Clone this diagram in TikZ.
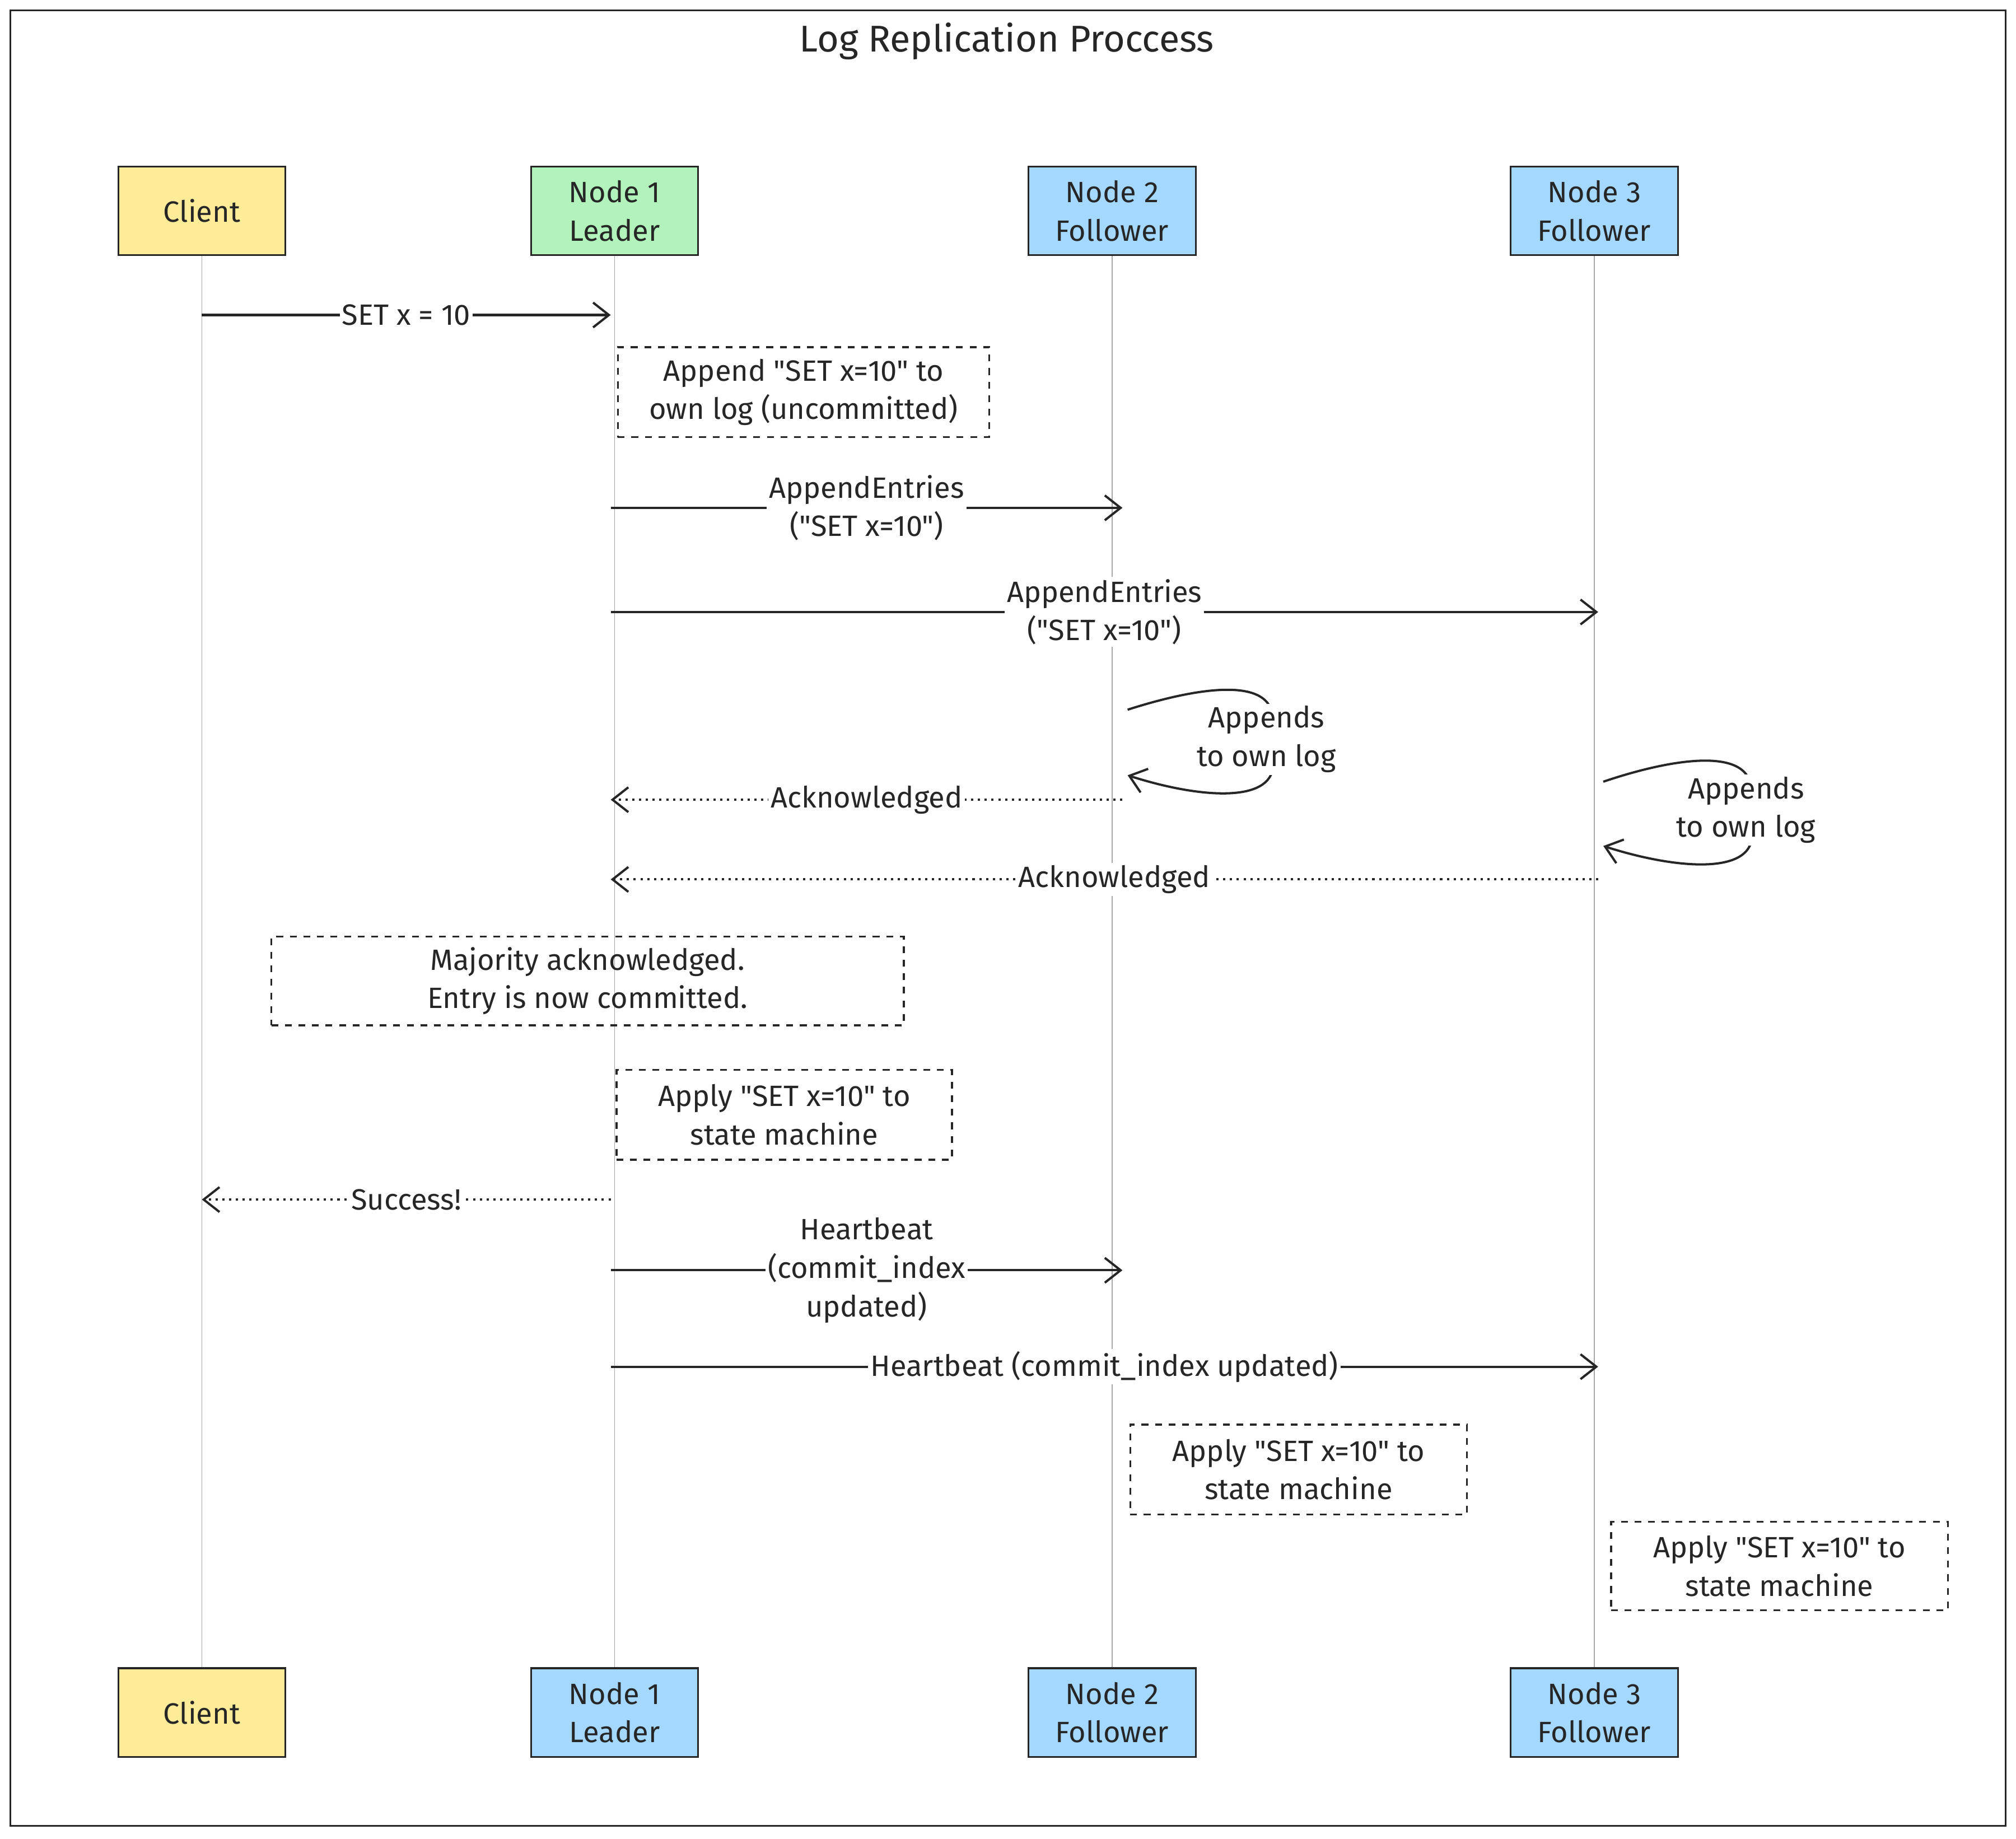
\documentclass[tikz,border=0pt]{standalone}
\usepackage{fontspec}
\setmainfont{Fira Sans}[Ligatures=TeXOff]
\usetikzlibrary{arrows.meta}
\definecolor{cy}{HTML}{FFEC99}
\definecolor{cg}{HTML}{B2F2BB}
\definecolor{cb}{HTML}{A5D8FF}
\begin{document}
\begin{tikzpicture}[x=0.02cm,y=-0.02cm,
  every node/.style={font=\fontsize{13}{17}\selectfont,text=black!85},
  actor/.style={draw=black!85,thick,minimum width=2.6cm,minimum height=1.38cm,align=center},
  note/.style={draw=black!85,thick,dashed,align=center,inner sep=0pt},
  life/.style={draw=black!35,thin},
  msg/.style={draw=black!85,line width=1pt,-{Straight Barb[length=7pt,width=11pt]}},
  ret/.style={draw=black!85,line width=1pt,dotted,-{Straight Barb[length=7pt,width=11pt]}},
  lbl/.style={fill=white,inner sep=1pt,align=center}]
\useasboundingbox (0,0) rectangle (1568,1430);
\draw[thick,black!85] (8,8) rectangle (1560,1420);
\node (title) at (783,32) {\fontsize{16.5}{19}\selectfont Log Replication Proccess};
% actors
\node[actor,fill=cy] (c1) at (157,164) {Client};
\node[actor,fill=cg] (n1) at (478,164) {Node 1\\Leader};
\node[actor,fill=cb] (n2) at (865,164) {Node 2\\Follower};
\node[actor,fill=cb] (n3) at (1240,164) {Node 3\\Follower};
\node[actor,fill=cy] (c1b) at (157,1332) {Client};
\node[actor,fill=cb] (n1b) at (478,1332) {Node 1\\Leader};
\node[actor,fill=cb] (n2b) at (865,1332) {Node 2\\Follower};
\node[actor,fill=cb] (n3b) at (1240,1332) {Node 3\\Follower};
\draw[life] (c1.south) -- (c1b.north);
\draw[life] (n1.south) -- (n1b.north);
\draw[life] (n2.south) -- (n2b.north);
\draw[life] (n3.south) -- (n3b.north);
% coordinates on lifelines
\foreach \y in {245,395,476,552,603,622,684,933,988,1063}{
  \coordinate (c\y) at (157,\y);
  \coordinate (a\y) at (475,\y);
  \coordinate (b\y) at (873,\y);
  \coordinate (d\y) at (1243,\y);
}
\draw[msg] (c245) -- node[lbl]{SET x = 10} (a245);
\node[note,minimum width=5.78cm,minimum height=1.4cm] (nt1) at (625,305) {Append "SET x=10" to\\own log (uncommitted)};
\draw[msg] (a395) -- node[lbl,pos=0.5]{AppendEntries\\("SET x=10")} (b395);
\draw[msg] (a476) -- node[lbl,pos=0.5]{AppendEntries\\("SET x=10")} (d476);
\coordinate (s2a) at (877,552);
\coordinate (s2b) at (877,603);
\draw[msg] (s2a) .. controls (930,535) and (990,525) .. (990,560) -- (990,598) .. controls (985,625) and (930,620) .. (s2b);
\node[lbl] (l2) at (985,575) {Appends\\to own log};
\draw[ret] (b622) -- node[lbl]{Acknowledged} (a622);
\coordinate (s3a) at (1247,608);
\coordinate (s3b) at (1247,658);
\draw[msg] (s3a) .. controls (1300,590) and (1362,580) .. (1362,615) -- (1362,655) .. controls (1355,680) and (1300,675) .. (s3b);
\node[lbl] (l3) at (1358,630) {Appends\\to own log};
\draw[ret] (d684) -- node[lbl,pos=0.49]{Acknowledged} (a684);
\node[note,minimum width=9.84cm,minimum height=1.38cm,fill=none] (nt2) at (457,763) {Majority acknowledged.\\Entry is now committed.};
\node[note,minimum width=5.22cm,minimum height=1.4cm] (nt3) at (610,867) {Apply "SET x=10" to\\state machine};
\draw[ret] (a933) -- node[lbl]{Success!} (c933);
\draw[msg] (a988) -- node[lbl,pos=0.5]{Heartbeat\\(commit\_index\\updated)} (b988);
\draw[msg] (a1063) -- node[lbl,pos=0.5]{Heartbeat (commit\_index updated)} (d1063);
\node[note,minimum width=5.24cm,minimum height=1.4cm] (nt4) at (1010,1143) {Apply "SET x=10" to\\state machine};
\node[note,minimum width=5.24cm,minimum height=1.38cm] (nt5) at (1384,1218) {Apply "SET x=10" to\\state machine};
\end{tikzpicture}
\end{document}
